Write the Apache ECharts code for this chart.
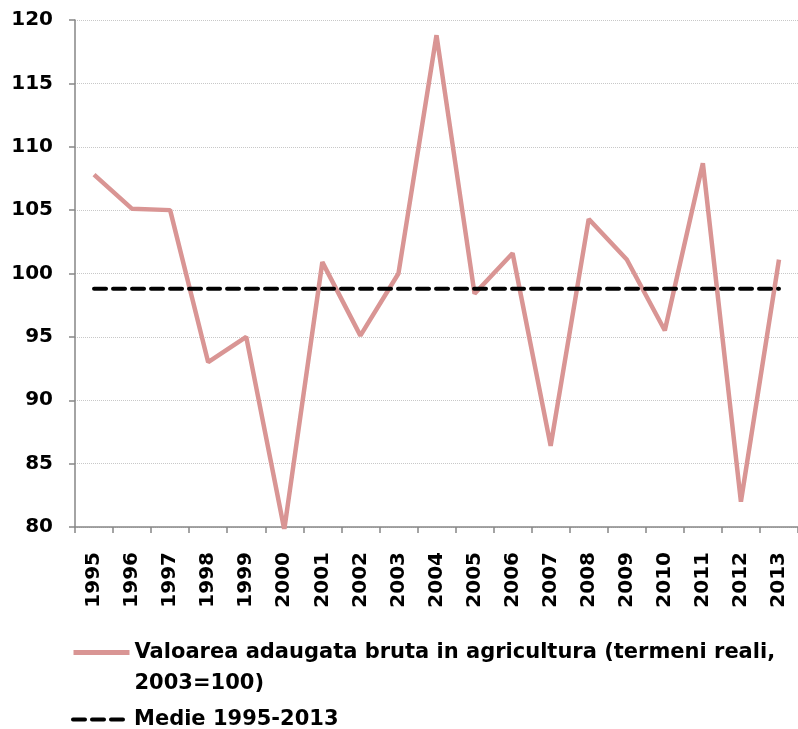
<!DOCTYPE html>
<html>
<head>
<meta charset="utf-8">
<script src="https://cdn.jsdelivr.net/npm/echarts@6/dist/echarts.min.js"></script>
<style>
    html, body { margin: 0; padding: 0; background: #fff; }
    #chart { width: 798px; height: 729px; }
</style>
</head>
<body>
<div id="chart"></div>
<script>
var years = ['1995', '1996', '1997', '1998', '1999', '2000', '2001', '2002', '2003', '2004',
    '2005', '2006', '2007', '2008', '2009', '2010', '2011', '2012', '2013'];
var vab = [107.8, 105.1, 105.0, 93.0, 95.0, 79.8, 100.9, 95.1, 100.0, 118.8,
    98.4, 101.6, 86.4, 104.3, 101.1, 95.5, 108.7, 82.0, 101.1];
var medie = [98.8, 98.8, 98.8, 98.8, 98.8, 98.8, 98.8, 98.8, 98.8, 98.8,
    98.8, 98.8, 98.8, 98.8, 98.8, 98.8, 98.8, 98.8, 98.8];
var yTicks = { min: 80, max: 120, step: 5 };

var serieVab = 'Valoarea adaugata bruta in agricultura (termeni reali, 2003=100)';
var serieMedie = 'Medie 1995-2013';

var font = 'DejaVu Sans';
var culoareVab = '#D99594';

var legendText = {
    fontFamily: font,
    fontWeight: 'bold',
    fontSize: 21,
    color: '#000'
};

var myChart = echarts.init(document.getElementById('chart'));
var option = {
    animation: false,
    backgroundColor: '#ffffff',
    grid: {
        left: 75,
        top: 20,
        width: 724,
        bottom: 202,
        containLabel: false
    },
    legend: [
        {
            data: [serieVab],
            left: 66,
            top: 601,
            itemWidth: 56,
            itemHeight: 14,
            itemStyle: { opacity: 0 },
            lineStyle: { width: 5, color: culoareVab },
            textStyle: {
                fontFamily: legendText.fontFamily,
                fontWeight: legendText.fontWeight,
                fontSize: legendText.fontSize,
                color: legendText.color,
                lineHeight: 31
            },
            formatter: function (name) {
                // rand gol sus ca primul rand de text sa stea in dreptul liniei
                return ' \nValoarea adaugata bruta in agricultura (termeni reali,\n2003=100)';
            }
        },
        {
            data: [serieMedie],
            left: 66,
            top: 704,
            itemWidth: 56,
            itemHeight: 14,
            itemStyle: { opacity: 0 },
            lineStyle: { width: 4, color: '#000', type: [12, 7], cap: 'round' },
            textStyle: legendText
        }
    ],
    xAxis: {
        type: 'category',
        data: years,
        boundaryGap: true,
        axisLine: { lineStyle: { color: '#868686', width: 1.5 } },
        axisTick: { show: true, length: 6, lineStyle: { color: '#868686', width: 1.5 } },
        axisLabel: {
            rotate: 90,
            margin: 25,
            interval: 0,
            fontFamily: font,
            fontWeight: 'bold',
            fontSize: 20,
            color: '#000'
        }
    },
    yAxis: {
        type: 'value',
        min: yTicks.min,
        max: yTicks.max,
        interval: yTicks.step,
        axisLine: { show: true, lineStyle: { color: '#868686', width: 1.5 } },
        axisTick: { show: true, length: 6, lineStyle: { color: '#868686', width: 1.5 } },
        axisLabel: {
            margin: 22,
            fontFamily: font,
            fontWeight: 'bold',
            fontSize: 20,
            color: '#000'
        },
        splitLine: { show: true, lineStyle: { color: '#c8c8c8', type: 'dotted', width: 1 } }
    },
    series: [
        {
            name: serieVab,
            type: 'line',
            data: vab,
            symbol: 'none',
            clip: true,
            lineStyle: { color: culoareVab, width: 4.5 },
            itemStyle: { color: culoareVab }
        },
        {
            name: serieMedie,
            type: 'line',
            data: medie,
            symbol: 'none',
            lineStyle: { color: '#000000', width: 4, type: [12, 7], cap: 'round' },
            itemStyle: { color: '#000000' }
        }
    ]
};
myChart.setOption(option);
</script>
</body>
</html>
